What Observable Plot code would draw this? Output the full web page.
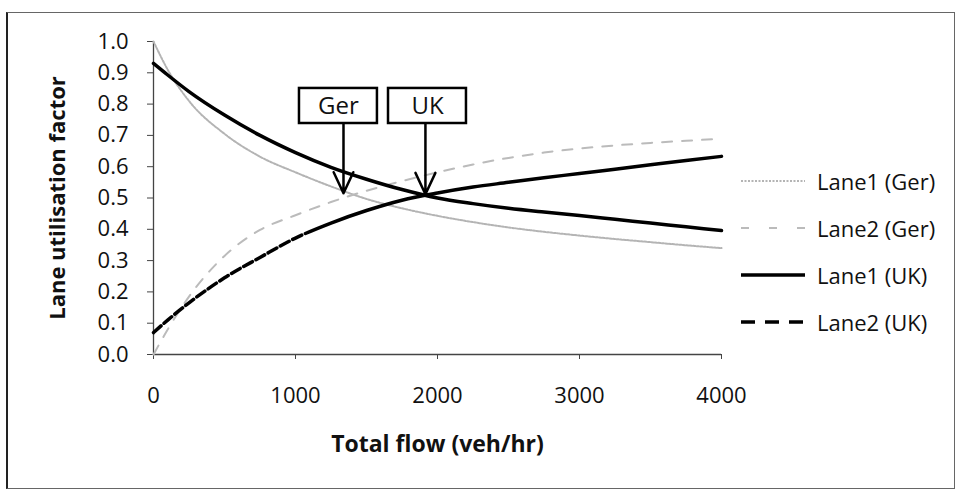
<!DOCTYPE html>
<html><head><meta charset="utf-8">
<script src="https://cdn.jsdelivr.net/npm/d3@7"></script>
<script src="https://cdn.jsdelivr.net/npm/@observablehq/plot@0.6"></script>
<style>
body{margin:0;background:#fff;}
#wrap{position:relative;width:961px;height:492px;font-family:"Open Sans",sans-serif;background:#fff;}
#frame{position:absolute;left:6px;top:12px;width:949px;height:477px;border:1px solid #666;border-left:2px solid #222;box-sizing:border-box;pointer-events:none;}
#legend{position:absolute;left:741px;top:157px;}
.item{display:flex;align-items:center;height:47px;font-size:22px;color:#111;}
.item svg{margin-right:12px;display:block;}
</style></head><body>
<div id="wrap"><div id="chart"></div><div id="legend"></div><div id="frame"></div></div>
<script>
// Data
const flows    = [0, 100, 250, 500, 750, 1000, 1250, 1500, 1750, 2000, 2250, 2500, 2750, 3000, 3250, 3500, 3750, 4000];
const lane1Ger = [1.00, 0.91, 0.81, 0.705, 0.632, 0.582, 0.537, 0.497, 0.467, 0.443, 0.423, 0.406, 0.392, 0.38, 0.369, 0.359, 0.349, 0.34];
const lane2Ger = [0.00, 0.08, 0.185, 0.315, 0.398, 0.445, 0.487, 0.523, 0.554, 0.582, 0.607, 0.628, 0.645, 0.658, 0.668, 0.676, 0.683, 0.689];
const lane1UK  = [0.93, 0.893, 0.84, 0.765, 0.70, 0.645, 0.598, 0.56, 0.527, 0.50, 0.482, 0.467, 0.455, 0.444, 0.432, 0.42, 0.408, 0.396];
const lane2UK  = [0.07, 0.11, 0.165, 0.245, 0.31, 0.372, 0.42, 0.46, 0.493, 0.516, 0.535, 0.55, 0.565, 0.578, 0.592, 0.606, 0.62, 0.633];
const seriesNames = ["Lane1 (Ger)", "Lane2 (Ger)", "Lane1 (UK)", "Lane2 (UK)"];

const annLabels = ["Ger", "UK"];
const annFlow   = [1338, 1915];
const annTip    = [0.515, 0.512];
const annBoxX1  = [1028, 1655];
const annBoxX2  = [1577, 2204];
const annBoxLo  = 0.738;
const annBoxHi  = 0.85;

const xTicks = [0, 1000, 2000, 3000, 4000];
const yTicks = [0, 0.1, 0.2, 0.3, 0.4, 0.5, 0.6, 0.7, 0.8, 0.9, 1.0];
const xLabel = "Total flow (veh/hr)";
const yLabel = "Lane utilisation factor";

// Build table
const allSeries = [lane1Ger, lane2Ger, lane1UK, lane2UK];
const table = seriesNames.flatMap((s, i) => flows.map((f, j) => ({series: s, flow: f, value: allSeries[i][j]})));
const ann = annLabels.map((l, i) => ({label: l, x: annFlow[i], tip: annTip[i], x1: annBoxX1[i], x2: annBoxX2[i]}));

const styles = {
  "Lane1 (Ger)": {stroke: "#b4b4b4", strokeWidth: 2, strokeDasharray: "2,1.5"},
  "Lane2 (Ger)": {stroke: "#bbbbbb", strokeWidth: 2, strokeDasharray: "10,10"},
  "Lane1 (UK)":  {stroke: "#000", strokeWidth: 3.5},
  "Lane2 (UK)":  {stroke: "#000", strokeWidth: 3.5, strokeDasharray: Array(13).fill("10,4").join(",") + ",2000,0"}
};

const lineMarks = seriesNames.map(s => Plot.line(table.filter(d => d.series === s), {
  x: "flow", y: "value", curve: "monotone-x", ...styles[s]
}));

const chart = Plot.plot({
  width: 961, height: 492,
  marginLeft: 153, marginRight: 240, marginTop: 41, marginBottom: 138,
  x: {domain: [0, 4000]},
  y: {domain: [0, 1]},
  style: {fontFamily: '"Open Sans", sans-serif', fontSize: "22px", background: "transparent", color: "#111"},
  marks: [
    Plot.axisX({ticks: xTicks, tickFormat: d => String(d), tickSize: 5, tickPadding: 28, label: null, stroke: "#444"}),
    Plot.axisY({ticks: yTicks, tickFormat: d3.format(".1f"), tickSize: 6, tickPadding: 19, label: null, stroke: "#444"}),
    Plot.ruleX([0], {stroke: "#444", strokeWidth: 1.3}),
    Plot.ruleY([0], {stroke: "#444", strokeWidth: 1.3}),
    ...lineMarks,
    Plot.arrow(ann, {x1: "x", x2: "x", y1: annBoxLo, y2: "tip", stroke: "#000", strokeWidth: 2.5, headLength: 20, headAngle: 50}),
    Plot.rect(ann, {x1: "x1", x2: "x2", y1: annBoxLo, y2: annBoxHi, fill: "#fff", stroke: "#000", strokeWidth: 2.5}),
    Plot.text(ann, {x: d => (d.x1 + d.x2) / 2, y: (annBoxLo + annBoxHi) / 2, text: "label", fontSize: 24, fill: "#111"}),
    Plot.text([xLabel], {frameAnchor: "bottom", dy: 97, fontWeight: "bold", fontSize: 23, fill: "#111"}),
    Plot.text([yLabel], {frameAnchor: "left", rotate: -90, dx: -96, textAnchor: "middle", lineAnchor: "middle", fontWeight: "bold", fontSize: 22, fill: "#111"})
  ]
});
document.getElementById("chart").appendChild(chart);

// Legend
const legend = d3.select("#legend");
seriesNames.forEach(s => {
  const st = styles[s];
  const item = legend.append("div").attr("class", "item");
  const svg = item.append("svg").attr("width", 64).attr("height", 10);
  const dash = s === "Lane2 (UK)" ? "14,10" : (s === "Lane2 (Ger)" ? "8,20" : (st.strokeDasharray || null));
  svg.append("line").attr("x1", 0).attr("x2", 64).attr("y1", 5).attr("y2", 5)
    .attr("stroke", st.stroke).attr("stroke-width", st.strokeWidth).attr("stroke-dasharray", dash);
  item.append("span").text(s);
});
</script>
</body></html>
